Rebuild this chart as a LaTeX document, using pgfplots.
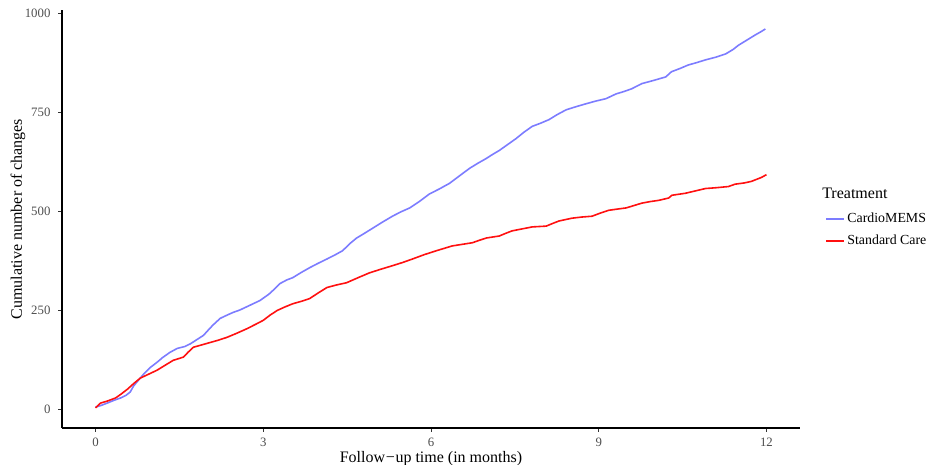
\documentclass[border=0pt]{standalone}
\usepackage{fontspec}
\setmainfont{Liberation Serif}
\usepackage{pgfplots}
\pgfplotsset{compat=1.18}

\definecolor{cmems}{RGB}{124,124,255}
\definecolor{stdcare}{RGB}{255,16,16}
\definecolor{ticktext}{RGB}{77,77,77}

\begin{document}
\begin{tikzpicture}
\begin{axis}[
    name=ax,
    scale only axis,
    width=553.5pt, height=313.5pt,
    xmin=-0.6, xmax=12.6,
    ymin=-48, ymax=1008,
    axis x line=bottom, axis y line=left,
    axis line style={-, line width=0.8pt},
    xtick={0,3,6,9,12},
    ytick={0,250,500,750,1000},
    tick align=outside,
    major tick length=2.75pt,
    tick style={line width=0.7pt, black!80},
    ticklabel style={font=\fontsize{9.6}{11}\selectfont, text=ticktext},
    /pgf/number format/assume math mode=true,
    /pgf/number format/1000 sep={},
    yticklabel style={xshift=-2.4pt},
    xticklabel style={yshift=-1.5pt},
    xlabel={Follow\kern0.5pt−\kern0.5pt up time (in months)},
    ylabel={Cumulative number of changes},
    every axis x label/.style={at={(axis description cs:0.5,-0.073)}, anchor=center, font=\fontsize{12}{14}\selectfont},
    every axis y label/.style={at={(axis description cs:-0.0596,0.5)}, anchor=center, rotate=90, font=\fontsize{12}{14}\selectfont},
    legend style={at={(axis description cs:1.0339,0.474)}, anchor=west, draw=none, fill=none,
        inner sep=0pt, row sep=3.5pt, font=\fontsize{10.4}{12}\selectfont,
        nodes={text height=7pt, text depth=2pt, inner sep=2pt}},
    legend cell align=left,
    legend image code/.code={\draw[#1, line width=1.1pt] (0pt,0pt) -- (13.5pt,0pt);},
    clip=false,
]
% CardioMEMS
\addplot[cmems, line width=1.2pt] coordinates {
(0,5) (0.1,9) (0.21,15) (0.33,22) (0.45,28) (0.55,35) (0.62,43) (0.68,58) (0.75,70)
(0.86,88) (0.98,105) (1.1,118) (1.2,130) (1.33,143) (1.46,153) (1.6,158) (1.7,165)
(1.82,176) (1.93,186) (2.02,200) (2.1,212) (2.23,229) (2.35,237) (2.46,244)
(2.58,250) (2.7,258) (2.82,266) (2.94,274) (3.1,290) (3.2,303) (3.3,317) (3.42,326)
(3.53,332) (3.68,345) (3.83,357) (3.98,368) (4.14,379) (4.28,389) (4.42,400)
(4.55,418) (4.67,432) (4.8,443) (4.96,457) (5.13,472) (5.31,487) (5.46,498)
(5.62,508) (5.8,525) (5.97,543) (6.15,556) (6.33,570) (6.5,588) (6.69,608)
(6.84,621) (6.99,633) (7.1,643) (7.22,653) (7.37,668) (7.52,683) (7.66,699)
(7.81,714) (7.96,722) (8.11,731) (8.26,744) (8.42,756) (8.6,764) (8.77,771)
(8.95,778) (9.13,784) (9.31,796) (9.45,802) (9.59,809) (9.77,822) (9.98,830)
(10.2,839) (10.3,852) (10.45,860) (10.6,869) (10.75,875) (10.91,882) (11.1,889)
(11.27,897) (11.4,908) (11.5,919) (11.65,932) (11.8,945) (11.9,953) (11.98,960)
};
\addlegendentry{CardioMEMS}
% Standard Care
\addplot[stdcare, line width=1.2pt] coordinates {
(0,3) (0.09,15) (0.21,20) (0.36,28) (0.46,38) (0.57,50) (0.68,64) (0.8,78)
(0.95,88) (1.1,98) (1.25,111) (1.39,123) (1.57,131) (1.66,144) (1.75,156)
(1.9,162) (2.05,168) (2.2,174) (2.35,181) (2.52,191) (2.71,203) (2.85,213)
(3.0,224) (3.12,237) (3.25,249) (3.39,258) (3.53,266) (3.68,272) (3.83,279)
(3.98,293) (4.14,307) (4.3,313) (4.49,319) (4.7,332) (4.9,344) (5.1,353)
(5.31,362) (5.49,370) (5.67,379) (5.88,390) (6.1,400) (6.24,406) (6.38,412)
(6.56,416) (6.74,420) (6.86,426) (6.99,432) (7.22,437) (7.34,444) (7.45,450)
(7.63,455) (7.81,460) (8.06,462) (8.18,469) (8.29,475) (8.52,482) (8.7,485)
(8.88,487) (9.03,495) (9.18,502) (9.33,505) (9.49,508) (9.63,514) (9.77,520)
(9.92,524) (10.07,527) (10.25,533) (10.31,540) (10.55,545) (10.73,551)
(10.91,557) (11.1,559) (11.32,562) (11.44,568) (11.6,571) (11.73,575)
(11.82,580) (11.91,585) (12,592)
};
\addlegendentry{Standard Care}
\node[anchor=base west, font=\fontsize{12}{14}\selectfont, inner sep=0pt]
    at (axis description cs:1.0298,0.5502) {Treatment};
\end{axis}
\pgfresetboundingbox
\path ([shift={(-46.5pt,-27pt)}]ax.south west) rectangle ([shift={(95.25pt,7.5pt)}]ax.north east);
\end{tikzpicture}
\end{document}
